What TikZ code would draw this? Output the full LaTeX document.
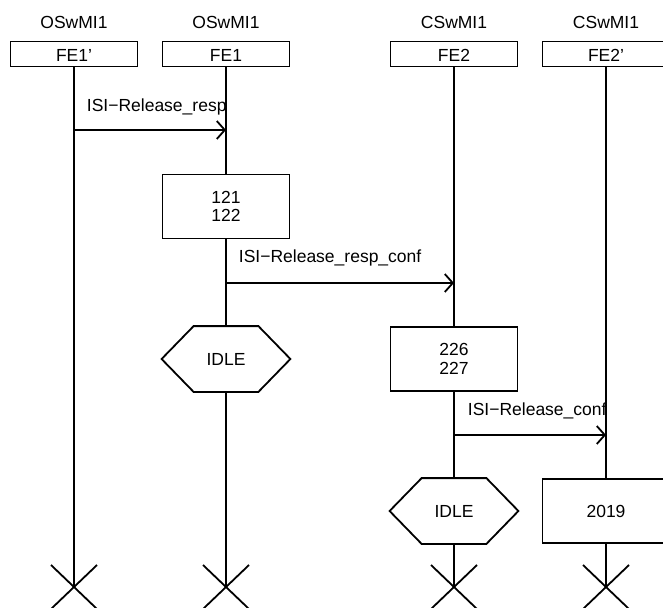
\documentclass[tikz,border=0pt]{standalone}
\usepackage{fontspec}
\setmainfont{Liberation Sans}
\usetikzlibrary{arrows.meta,calc}
\begin{document}
\begin{tikzpicture}[x=1pt,y=-1pt,line width=1.8pt,
  every node/.style={font=\fontsize{17.5}{18.5}\selectfont},
  ent/.style={inner sep=0pt,anchor=base},
  hdr/.style={draw,fill=white,minimum width=127pt,minimum height=25pt,inner sep=0pt,text height=16pt,text depth=0pt},
  actbox/.style={draw,fill=white,minimum width=127pt,minimum height=64pt,inner sep=0pt,align=center},
  hexbox/.style={minimum width=127pt,minimum height=64pt,inner sep=0pt},
  hexline/.style={draw,fill=white,line join=miter},
  msg/.style={-{Straight Barb[length=8pt,width=18pt,line width=1.8pt]}},
  lbl/.style={inner sep=0pt,anchor=base west},
  cross/.style={line width=1.8pt}]
\useasboundingbox (0,0) rectangle (663,607);

% entity names
\node[ent] (n1) at (74,29) {OSwMI1};
\node[ent] (n2) at (226,29) {OSwMI1};
\node[ent] (n3) at (454,29) {CSwMI1};
\node[ent] (n4) at (606,29) {CSwMI1};

% end coordinates
\coordinate (e1) at (74,587);
\coordinate (e2) at (226,587);
\coordinate (e3) at (454,587);
\coordinate (e4) at (606,587);

% lifelines (drawn first)
\draw (74,54) -- (e1);
\draw (226,54) -- (e2);
\draw (454,54) -- (e3);
\draw (606,54) -- (e4);

% headers
\node[hdr] (h1) at (74,54) {FE1'};
\node[hdr] (h2) at (226,54) {FE1};
\node[hdr] (h3) at (454,54) {FE2};
\node[hdr] (h4) at (606,54) {FE2'};

% message 1
\coordinate (m1s) at (74,130);
\coordinate (m1e) at (226,130);
\draw[msg] (m1s) -- (m1e);
\node[lbl] (l1) at (86,111) {ISI−Release\_resp};

% box 121/122
\node[actbox] (b1) at (226,206.5) {121\\122};

% message 2
\coordinate (m2s) at (226,283);
\coordinate (m2e) at (454,283);
\draw[msg] (m2s) -- (m2e);
\node[lbl] (l2) at (238,262) {ISI−Release\_resp\_conf};

% IDLE 1
\node[hexbox] (i1) at (226,359) {};
\path[hexline] (i1.west) -- ($(i1.north west)+(32,0)$) -- ($(i1.north east)+(-32,0)$) -- (i1.east) -- ($(i1.south east)+(-32,0)$) -- ($(i1.south west)+(32,0)$) -- cycle;
\node (t1) at (i1) {IDLE};

% box 226/227
\node[actbox] (b2) at (454,359) {226\\227};

% message 3
\coordinate (m3s) at (454,435);
\coordinate (m3e) at (606,435);
\draw[msg] (m3s) -- (m3e);
\node[lbl] (l3) at (467,415) {ISI−Release\_conf};

% IDLE 2
\node[hexbox] (i2) at (454,511) {};
\path[hexline] (i2.west) -- ($(i2.north west)+(32,0)$) -- ($(i2.north east)+(-32,0)$) -- (i2.east) -- ($(i2.south east)+(-32,0)$) -- ($(i2.south west)+(32,0)$) -- cycle;
\node (t2) at (i2) {IDLE};

% box 2019
\node[actbox] (b3) at (606,511) {2019};

% stop crosses
\foreach \e in {e1,e2,e3,e4}{
  \draw[cross] ($(\e)+(-23,-22)$) -- ($(\e)+(23,22)$);
  \draw[cross] ($(\e)+(23,-22)$) -- ($(\e)+(-23,22)$);
}
\end{tikzpicture}
\end{document}
